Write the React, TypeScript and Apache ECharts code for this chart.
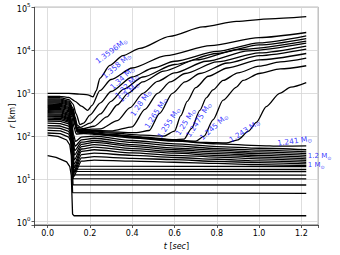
import React, { useEffect, useRef } from 'react';
import * as echarts from 'echarts';

// ---- shell trajectories: [t (s), r (km)] ----
// ejected shells
const m1_3596 = [[0,1000],[0.06,1000],[0.1,990],[0.15,960],[0.19,920],[0.215,830],[0.23,1150],[0.247,2240],[0.294,4470],[0.356,7590],[0.436,11200],[0.578,21400],[0.734,35500],[0.893,47900],[1.05,55000],[1.223,61700]];
const m1_358 = [[0,850],[0.06,845],[0.1,800],[0.13,650],[0.16,500],[0.19,400],[0.21,520],[0.247,1150],[0.3,2100],[0.4,3900],[0.56,7600],[0.77,13000],[1.0,20000],[1.223,26300]];
const m1_34 = [[0,795],[0.06,790],[0.1,720],[0.12,560],[0.135,330],[0.153,185],[0.17,200],[0.2,310],[0.25,600],[0.3,1100],[0.4,2400],[0.5,3900],[0.6,5600],[0.8,9500],[1.0,15000],[1.223,21900]];
const m1_32 = [[0,740],[0.06,735],[0.1,660],[0.12,450],[0.13,280],[0.14,180],[0.155,160],[0.2,200],[0.25,330],[0.3,650],[0.36,1250],[0.45,2400],[0.6,4700],[0.8,8500],[1.0,13500],[1.223,19000]];
const m1_30 = [[0,700],[0.06,695],[0.1,620],[0.12,410],[0.13,240],[0.14,160],[0.17,150],[0.22,170],[0.28,280],[0.33,540],[0.38,1000],[0.45,1850],[0.55,3300],[0.7,6000],[0.9,10500],[1.223,16600]];
const m1_28 = [[0,660],[0.06,655],[0.1,590],[0.12,390],[0.13,220],[0.14,150],[0.17,142],[0.25,148],[0.33,230],[0.39,460],[0.45,1000],[0.52,1900],[0.6,3000],[0.75,5600],[0.95,9800],[1.223,14800]];
const m1_265 = [[0,624],[0.06,620],[0.1,560],[0.12,370],[0.13,210],[0.14,145],[0.17,138],[0.3,132],[0.4,165],[0.46,420],[0.52,1000],[0.58,1850],[0.65,2900],[0.8,5400],[1.0,8800],[1.223,12700]];
const m1_255 = [[0,590],[0.06,585],[0.1,530],[0.12,350],[0.13,200],[0.14,140],[0.17,134],[0.3,125],[0.42,120],[0.48,135],[0.53,340],[0.59,1000],[0.65,1850],[0.72,2900],[0.85,5100],[1.0,7600],[1.223,10800]];
const m1_25 = [[0,556],[0.06,552],[0.1,500],[0.12,330],[0.13,195],[0.14,135],[0.17,130],[0.3,118],[0.45,105],[0.55,100],[0.6,130],[0.63,300],[0.66,650],[0.7,1350],[0.76,2500],[0.85,3900],[1.0,6000],[1.223,8500]];
const m1_2475 = [[0,525],[0.06,521],[0.1,470],[0.12,315],[0.13,190],[0.14,130],[0.17,126],[0.3,110],[0.45,95],[0.6,83],[0.645,85],[0.68,150],[0.72,400],[0.75,780],[0.782,1200],[0.83,2000],[0.9,3000],[1.0,4300],[1.1,5400],[1.223,6600]];
const m1_245 = [[0,495],[0.06,491],[0.1,445],[0.12,300],[0.13,185],[0.14,127],[0.17,123],[0.3,107],[0.45,92],[0.6,80],[0.7,76],[0.74,100],[0.782,240],[0.83,690],[0.893,1400],[0.924,2000],[1.0,2900],[1.1,3700],[1.223,4400]];
const m1_243 = [[0,468],[0.06,464],[0.1,420],[0.12,285],[0.13,180],[0.14,124],[0.17,120],[0.3,104],[0.45,89],[0.6,78],[0.75,71],[0.845,69],[0.9,82],[0.95,130],[0.987,210],[1.034,490],[1.097,1000],[1.15,1400],[1.223,1780]];
// bound shells that bounce and settle
const m1_241 = [[0,442],[0.06,438],[0.1,395],[0.115,280],[0.125,160],[0.135,112],[0.17,115],[0.22,110],[0.4,91],[0.6,76],[0.8,66],[1.0,60],[1.1,58],[1.223,59]];
const n02 = [[0,417],[0.06,413],[0.1,370],[0.113,250],[0.122,110],[0.132,75],[0.16,95],[0.22,100],[0.4,79],[0.6,66],[0.8,57],[1.0,52],[1.223,48]];
const n03 = [[0,394],[0.06,390],[0.1,345],[0.113,230],[0.121,95],[0.13,58],[0.16,82],[0.22,89],[0.4,71],[0.6,59],[0.8,51],[1.0,47],[1.223,43]];
const n04 = [[0,372],[0.06,368],[0.1,325],[0.112,210],[0.12,85],[0.128,46],[0.16,72],[0.22,79],[0.4,63],[0.6,52.5],[0.8,46.8],[1.0,42.7],[1.223,39]];
const n05 = [[0,351],[0.06,347],[0.1,305],[0.112,195],[0.12,72],[0.127,36],[0.16,64],[0.22,71],[0.4,57.5],[0.6,48],[0.8,42.7],[1.0,39],[1.223,35.5]];
const n06 = [[0,331],[0.06,327],[0.1,288],[0.112,180],[0.119,62],[0.126,28],[0.16,57],[0.22,63],[0.4,51],[0.6,43.6],[0.8,39],[1.0,35.5],[1.223,32.4]];
const n07 = [[0,312],[0.06,308],[0.1,271],[0.112,170],[0.119,55],[0.125,22],[0.16,50],[0.22,55],[0.4,45.7],[0.6,39.8],[0.8,35.5],[1.0,32.4],[1.223,29.5]];
const n08 = [[0,295],[0.06,291],[0.1,256],[0.111,160],[0.118,50],[0.124,18],[0.16,44],[0.22,48],[0.4,40.7],[0.6,35.5],[0.8,32.4],[1.0,29.5],[1.223,27]];
const n09 = [[0,280],[0.06,276],[0.1,243],[0.111,150],[0.118,45],[0.123,15],[0.16,37],[0.22,40],[0.4,35.5],[0.6,31.6],[0.8,28.8],[1.0,26.3],[1.223,24.5]];
const n10 = [[0,262],[0.06,258],[0.1,227],[0.111,140],[0.117,40],[0.122,13],[0.16,31],[0.22,33],[0.4,30.2],[0.6,28.2],[0.8,25.7],[1.0,24],[1.223,22.4]];
const n11 = [[0,245],[0.06,241],[0.1,212],[0.11,135],[0.116,38],[0.121,11],[0.16,26],[0.22,27.5],[0.4,26],[0.6,24.5],[0.8,23],[1.0,21.5],[1.223,20.4]];
// inner core shells (settle at constant radius)
const p8 = [[0,225],[0.06,221],[0.1,193],[0.11,150],[0.116,50],[0.12,20.5],[0.14,19.8],[1.223,19.5]];
const p7 = [[0,200],[0.06,196],[0.1,170],[0.11,132],[0.116,45],[0.12,17],[1.223,16.6]];
const p6 = [[0,176],[0.06,172],[0.1,148],[0.11,115],[0.116,40],[0.12,15],[1.223,14.8]];
const p5 = [[0,155],[0.06,151],[0.1,129],[0.11,100],[0.116,35],[0.12,12.5],[1.223,12.3]];
const p4 = [[0,136],[0.06,132],[0.1,112],[0.11,86],[0.116,30],[0.12,10.2],[1.223,10]];
const p3 = [[0,118],[0.06,114],[0.1,95],[0.11,72],[0.116,25],[0.12,7.3],[1.223,7.2]];
const p2 = [[0,105],[0.05,98],[0.09,81],[0.105,62],[0.112,35],[0.118,4.8],[1.223,4.6]];
const p1 = [[0,35],[0.04,32],[0.09,25],[0.105,19.3],[0.112,12],[0.118,1.5],[0.125,1.38],[1.223,1.38]];

const smoothCurves = [m1_3596, m1_358, m1_34, m1_32, m1_30, m1_28, m1_265, m1_255, m1_25, m1_2475, m1_245, m1_243, m1_241, n02, n03, n04, n05, n06, n07, n08, n09, n10, n11];
const sharpCurves = [p8, p7, p6, p5, p4, p3, p2, p1];

// ---- mass labels ----
const labelMass = ['1.3596', '1.358 ', '1.34 ', '1.32 ', '1.3 ', '1.28 ', '1.265 ', '1.255 ', '1.25 ', '1.2475 ', '1.245 ', '1.243 ', '1.241 '];
const labelT = [0.302, 0.327, 0.353, 0.375, 0.384, 0.441, 0.512, 0.573, 0.653, 0.715, 0.786, 0.931, 1.168];
const labelR = [9800, 4350, 2280, 1480, 1070, 590, 347, 204, 214, 240, 163, 131, 77];
const labelRot = [37, 40, 43, 45, 45, 55, 57, 57, 57, 57, 42, 33, 8];
const endMass = ['1.2 ', '1 '];
const endT = [1.228, 1.228];
const endR = [34, 21];

const FONT = 'DejaVu Sans';

export default function App() {
  const ref = useRef<HTMLDivElement>(null);
  useEffect(() => {
    if (!ref.current) return;
    const chart = echarts.init(ref.current, undefined, { renderer: 'svg' });
    const lineSeries: any[] = [];
    smoothCurves.forEach((d) => {
      lineSeries.push({
        type: 'line', data: d, showSymbol: false, symbol: 'none', smooth: 0.25, smoothMonotone: 'x',
        lineStyle: { color: '#000', width: 1.3 }, silent: true, z: 3,
      });
    });
    sharpCurves.forEach((d) => {
      lineSeries.push({
        type: 'line', data: d, showSymbol: false, symbol: 'none', smooth: false,
        lineStyle: { color: '#000', width: 1.3 }, silent: true, z: 3,
      });
    });
    const rich = {
      n: { fontSize: 7.5, fontFamily: FONT, color: '#0000ff' },
      s: { fontSize: 5.5, fontFamily: FONT, color: '#0000ff', verticalAlign: 'bottom', padding: [3, 0, 0, 0] },
    };
    const richEnd = {
      n: { fontSize: 7, fontFamily: FONT, color: '#0000ff', lineHeight: 8 },
      s: { fontSize: 5, fontFamily: FONT, color: '#0000ff', verticalAlign: 'bottom', lineHeight: 6, padding: [2, 0, 0, 0] },
    };
    const labelData = labelMass.map((m, i) => ({
      value: [labelT[i], labelR[i]],
      label: { rotate: labelRot[i], formatter: `{n|${m}M}{s|⊙}` },
    }));
    const endData = endMass.map((m, i) => ({
      value: [endT[i], endR[i]],
      label: { formatter: `{n|${m}M}{s|⊙}` },
    }));
    lineSeries.push({
      type: 'scatter', data: labelData, symbolSize: 1, itemStyle: { color: 'transparent' }, silent: true, z: 5,
      label: { show: true, position: 'inside', align: 'center', verticalAlign: 'middle', rich },
    });
    lineSeries.push({
      type: 'scatter', data: endData, symbolSize: 1, itemStyle: { color: 'transparent' }, silent: true, z: 5,
      label: { show: true, position: 'right', distance: 0, rich: richEnd },
    });

    chart.setOption({
      animation: false,
      backgroundColor: '#fff',
      grid: { left: 34.5, right: 21.7, top: 7.3, bottom: 30, show: true, borderColor: '#333', borderWidth: 0.8, backgroundColor: 'transparent', containLabel: false, outerBoundsMode: 'none' },
      graphic: [
        {
          type: 'text', x: 12, y: 116, rotation: Math.PI / 2, silent: true,
          style: {
            text: '{i|r} [km]', fontSize: 8, fontFamily: FONT, fill: '#000', align: 'center', verticalAlign: 'middle',
            rich: { i: { fontStyle: 'italic', fontSize: 8, fontFamily: FONT, fill: '#000' } },
          },
        },
      ],
      xAxis: {
        type: 'value', min: -0.062, max: 1.28, splitNumber: 7,
        axisLine: { onZero: false, lineStyle: { color: '#333', width: 0.8 } },
        axisTick: { show: true, length: 3, lineStyle: { color: '#333', width: 0.8 } },
        axisLabel: {
          fontSize: 8, fontFamily: FONT, color: '#000', margin: 4,
          formatter: (v: number) => (Math.abs(v * 5 - Math.round(v * 5)) < 1e-6 ? v.toFixed(1) : ''),
        },
        splitLine: { show: true, lineStyle: { color: '#d6d6d6', width: 0.8 } },
        name: '{i|t} [{i|sec}]', nameLocation: 'middle', nameGap: 17,
        nameTextStyle: { fontSize: 8, fontFamily: FONT, color: '#000', rich: { i: { fontStyle: 'italic', fontSize: 8, fontFamily: FONT } } },
      },
      yAxis: {
        type: 'log', min: 0.838, max: 102000, logBase: 10,
        axisLine: { show: true, onZero: false, lineStyle: { color: '#333', width: 0.8 } },
        axisTick: { show: true, length: 3, lineStyle: { color: '#333', width: 0.8 } },
        axisLabel: {
          margin: 4, color: '#000',
          formatter: (v: number) => {
            const l = Math.log10(v);
            const e = Math.round(l);
            if (Math.abs(l - e) > 0.01) return '';
            return `{b|10}{s|${e}}`;
          },
          rich: {
            b: { fontSize: 8, fontFamily: FONT, color: '#000', verticalAlign: 'bottom', lineHeight: 11 },
            s: { fontSize: 5.5, fontFamily: FONT, color: '#000', verticalAlign: 'top', lineHeight: 6 },
          },
        },
        splitLine: { show: true, lineStyle: { color: '#d6d6d6', width: 0.8 } },
      },
      series: lineSeries,
    });
    return () => chart.dispose();
  }, []);
  return <div ref={ref} style={{ position: 'fixed', left: 0, top: 0, width: 340, height: 255 }} />;
}
